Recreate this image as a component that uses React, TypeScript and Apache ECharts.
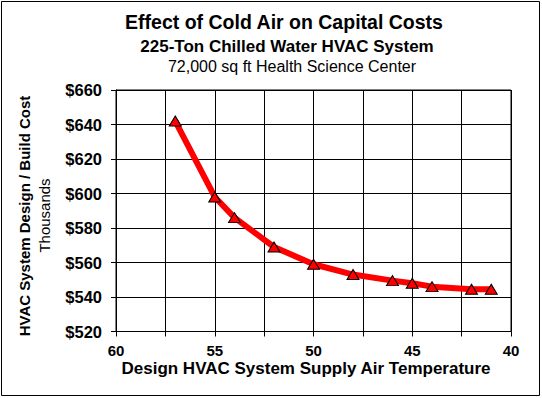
import React, { useEffect, useRef } from "react";
import * as echarts from "echarts";

const temperatures = [57, 55, 54, 52, 50, 48, 46, 45, 44, 42, 41];
const costs = [642, 598, 586, 569, 559, 553, 549.5, 548, 546, 544.5, 544.5];

const titleText = "Effect of Cold Air on Capital Costs";
const subtitleText = "225-Ton Chilled Water HVAC System";
const subtitle2Text = "72,000 sq ft Health Science Center";
const xAxisTitle = "Design HVAC System Supply Air Temperature";
const yAxisTitle = "HVAC System Design / Build Cost";
const yAxisUnit = "Thousands";

const FONT = "'Liberation Sans', Arial, sans-serif";

export default function App() {
  const ref = useRef<HTMLDivElement>(null);
  useEffect(() => {
    if (!ref.current) return;
    const chart = echarts.init(ref.current, null, { renderer: "svg" });
    const data = temperatures.map((t, i) => [t, costs[i]]);
    chart.setOption({
      animation: false,
      backgroundColor: "#fff",
      textStyle: { fontFamily: FONT },
      grid: {
        left: 116,
        right: 31,
        top: 90,
        bottom: 66.5,
        show: true,
        borderColor: "#000",
        borderWidth: 1,
        backgroundColor: "transparent",
      },
      xAxis: {
        type: "value",
        min: 40,
        max: 60,
        interval: 5,
        inverse: true,
        axisLine: { show: true, lineStyle: { color: "#000", width: 1 } },
        axisTick: { show: true, length: 5, lineStyle: { color: "#000" } },
        minorTick: { show: true, splitNumber: 2, length: 5, lineStyle: { color: "#000" } },
        splitLine: { show: true, lineStyle: { color: "#000", width: 1 } },
        minorSplitLine: { show: true, lineStyle: { color: "#000", width: 1 } },
        axisLabel: {
          color: "#000",
          fontFamily: FONT,
          fontWeight: "bold",
          fontSize: 15,
          margin: 11,
        },
      },
      yAxis: {
        type: "value",
        min: 520,
        max: 660,
        interval: 20,
        axisLine: { show: true, lineStyle: { color: "#000", width: 1 } },
        axisTick: { show: true, length: 5, lineStyle: { color: "#000" } },
        splitLine: { show: true, lineStyle: { color: "#000", width: 1 } },
        axisLabel: {
          color: "#000",
          fontFamily: FONT,
          fontWeight: "bold",
          fontSize: 16.5,
          margin: 14,
          formatter: (v: number) => "$" + v,
        },
      },
      series: [
        {
          type: "line",
          data,
          lineStyle: { color: "#ff0000", width: 6 },
          symbol: "triangle",
          symbolSize: [12, 10],
          itemStyle: { color: "#ff0000", borderColor: "#000", borderWidth: 1 },
          z: 5,
        },
      ],
      graphic: [
        {
          type: "rect",
          shape: { x: 1.5, y: 1.5, width: 538, height: 394 },
          style: { fill: "none", stroke: "#000", lineWidth: 1 },
          silent: true,
        },
        {
          type: "text",
          x: 284,
          y: 22,
          style: {
            text: titleText,
            fontFamily: FONT,
            fontWeight: "bold",
            fontSize: 19.5,
            fill: "#000",
            align: "center",
            verticalAlign: "middle",
          },
        },
        {
          type: "text",
          x: 287,
          y: 46,
          style: {
            text: subtitleText,
            fontFamily: FONT,
            fontWeight: "bold",
            fontSize: 17,
            fill: "#000",
            align: "center",
            verticalAlign: "middle",
          },
        },
        {
          type: "text",
          x: 292,
          y: 66,
          style: {
            text: subtitle2Text,
            fontFamily: FONT,
            fontSize: 16,
            fill: "#000",
            align: "center",
            verticalAlign: "middle",
          },
        },
        {
          type: "text",
          x: 306,
          y: 368,
          style: {
            text: xAxisTitle,
            fontFamily: FONT,
            fontWeight: "bold",
            fontSize: 17,
            fill: "#000",
            align: "center",
            verticalAlign: "middle",
          },
        },
        {
          type: "text",
          x: 24,
          y: 216,
          rotation: Math.PI / 2,
          style: {
            text: yAxisTitle,
            fontFamily: FONT,
            fontWeight: "bold",
            fontSize: 15,
            fill: "#000",
            align: "center",
            verticalAlign: "middle",
          },
        },
        {
          type: "text",
          x: 44,
          y: 215.5,
          rotation: Math.PI / 2,
          style: {
            text: yAxisUnit,
            fontFamily: FONT,
            fontSize: 15,
            fill: "#000",
            align: "center",
            verticalAlign: "middle",
          },
        },
      ],
    });
    return () => chart.dispose();
  }, []);
  return (
    <div
      ref={ref}
      style={{ position: "fixed", left: 0, top: 0, width: 542, height: 398, background: "#fff" }}
    />
  );
}
